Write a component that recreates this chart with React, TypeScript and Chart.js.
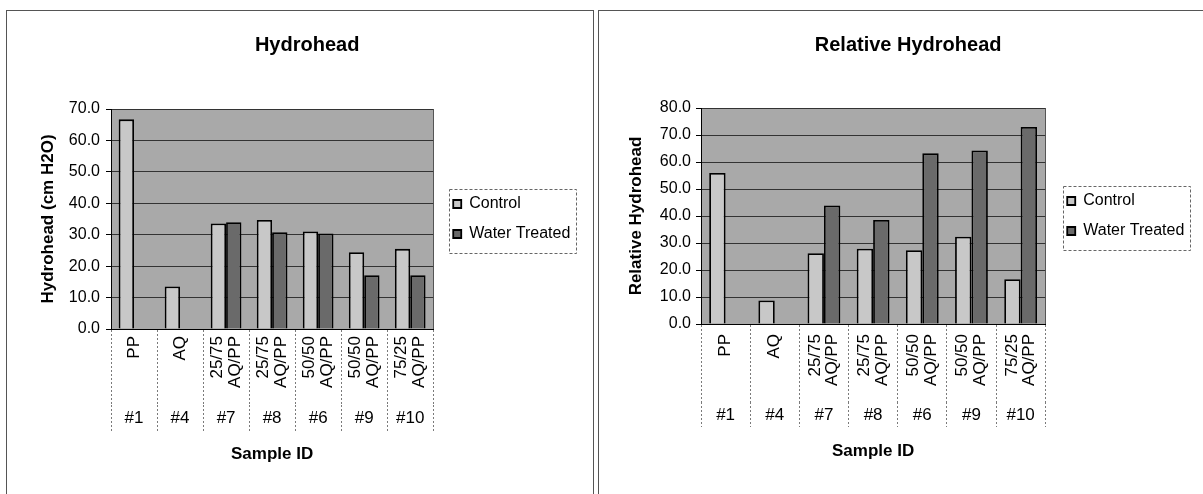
import React, { useEffect, useRef } from 'react';
import { Chart, registerables } from 'chart.js';

Chart.register(...registerables);

// ---------- data ----------
const sampleMaterials: string[] = ['PP', 'AQ', '25/75 AQ/PP', '25/75 AQ/PP', '50/50 AQ/PP', '50/50 AQ/PP', '75/25 AQ/PP'];
const sampleIds: string[] = ['#1', '#4', '#7', '#8', '#6', '#9', '#10'];
const seriesNames: string[] = ['Control', 'Water Treated'];

const hydroheadControl: (number | null)[] = [66.7, 13.5, 33.6, 34.7, 31.0, 24.4, 25.5];
const hydroheadWater: (number | null)[] = [null, null, 34.0, 30.8, 30.4, 17.1, 17.1];

const relativeControl: (number | null)[] = [55.9, 8.7, 26.2, 27.9, 27.3, 32.3, 16.6];
const relativeWater: (number | null)[] = [null, null, 43.9, 38.5, 63.2, 64.3, 73.0];

const hydroheadAxisMax = 70;
const relativeAxisMax = 80;
const axisStep = 10;

// ---------- styles ----------
const FONT = '"Liberation Sans", Arial, Helvetica, sans-serif';
const PLOT_BG = '#a9a9a9';
const CONTROL_FILL = '#c8c8c8';
const WATER_FILL = '#6a6a6a';
const LABEL_LINE = 8.8; // px line step for rotated category labels
const LABEL_SIZE = 17;

// Multi-line category labels: middle slot used for single words so they sit on the centre.
const toLines = (s: string): string[] => {
  const parts = s.split(' ');
  return parts.length === 1 ? ['', parts[0], ''] : [parts[0], '', parts[1]];
};

const plotBackground = {
  id: 'plotBackground',
  beforeDraw(chart: any) {
    const { ctx, chartArea: a } = chart;
    ctx.save();
    ctx.fillStyle = PLOT_BG;
    ctx.fillRect(a.left, a.top, a.right - a.left, a.bottom - a.top);
    ctx.strokeStyle = '#555';
    ctx.lineWidth = 1;
    ctx.strokeRect(Math.round(a.left) + 0.5, Math.round(a.top) + 0.5, Math.round(a.right - a.left), Math.round(a.bottom - a.top));
    ctx.restore();
  },
};

const legendFrame = {
  id: 'legendFrame',
  afterDraw(chart: any) {
    const lg = chart.legend;
    if (!lg || !lg.legendHitBoxes || !lg.legendHitBoxes.length) return;
    const hb = lg.legendHitBoxes;
    const maxW = Math.max(...hb.map((h: any) => h.width));
    const left = Math.round(hb[0].left - 4) + 0.5;
    const top = Math.round(hb[0].top - 7) + 0.5;
    const right = Math.round(hb[0].left + maxW + 6) + 0.5;
    const last = hb[hb.length - 1];
    const bottom = Math.round(last.top + last.height + 11) + 0.5;
    const { ctx } = chart;
    ctx.save();
    ctx.strokeStyle = '#666';
    ctx.lineWidth = 1;
    ctx.setLineDash([3, 2]);
    ctx.strokeRect(left, top, right - left, bottom - top);
    ctx.restore();
  },
};

type Spec = {
  left: number; top: number; width: number; height: number;
  title: string; yTitle: string; control: (number | null)[]; water: (number | null)[]; yMax: number;
  padLeft: number; padRight: number; padBottom: number;
  titlePadTop: number; titlePadBottom: number;
  yWidth: number; yTickPad: number; gap: number;
  xHeight: number; xLabelPad: number;
  x2Height: number; x2Tick: number; x2LabelPad: number;
};

function buildConfig(s: Spec): any {
  return {
    type: 'bar',
    data: {
      labels: sampleMaterials.map(toLines),
      datasets: [
        { label: seriesNames[0], data: s.control, backgroundColor: CONTROL_FILL, borderColor: '#000', borderWidth: 1.8, categoryPercentage: 0.667, barPercentage: 1 },
        { label: seriesNames[1], data: s.water, backgroundColor: WATER_FILL, borderColor: '#000', borderWidth: 1.8, categoryPercentage: 0.667, barPercentage: 1 },
      ],
    },
    options: {
      responsive: false,
      maintainAspectRatio: false,
      animation: false,
      devicePixelRatio: 1,
      events: [],
      layout: { padding: { left: s.padLeft, right: s.padRight, top: 0, bottom: s.padBottom } },
      plugins: {
        title: {
          display: true, text: s.title, color: '#000',
          font: { family: FONT, size: 20, weight: 'bold' },
          padding: { top: s.titlePadTop, bottom: s.titlePadBottom },
        },
        legend: {
          position: 'right', align: 'center', fullSize: false, maxWidth: 300,
          labels: { boxWidth: 8, boxHeight: 8, padding: 14, color: '#000', font: { family: FONT, size: 16 } },
        },
        tooltip: { enabled: false },
      },
      scales: {
        x: {
          type: 'category', position: 'bottom', offset: true,
          grid: { display: true, drawOnChartArea: false, drawTicks: true, tickLength: s.xHeight, offset: true, tickColor: '#7a7a7a', tickWidth: 1, tickBorderDash: [2, 2] },
          border: { display: true, color: '#000', width: 1 },
          ticks: {
            autoSkip: false, minRotation: 90, maxRotation: 90, padding: s.xLabelPad, labelOffset: -LABEL_LINE,
            color: '#000', font: { family: FONT, size: LABEL_SIZE, lineHeight: LABEL_LINE / LABEL_SIZE },
          },
          afterFit: (sc: any) => { sc.height = s.xHeight; },
        },
        x2: {
          type: 'category', position: 'bottom', labels: sampleIds, offset: true,
          grid: { display: true, drawOnChartArea: false, drawTicks: true, tickLength: s.x2Tick, offset: true, tickColor: '#7a7a7a', tickWidth: 1, tickBorderDash: [2, 2] },
          border: { display: false },
          ticks: { autoSkip: false, minRotation: 0, maxRotation: 0, padding: s.x2LabelPad, color: '#000', font: { family: FONT, size: LABEL_SIZE } },
          title: { display: true, text: 'Sample ID', color: '#000', font: { family: FONT, size: 17, weight: 'bold' }, padding: { top: 0, bottom: 4 } },
          afterFit: (sc: any) => { sc.height = s.x2Height; },
        },
        y: {
          type: 'linear', position: 'left', min: 0, max: s.yMax,
          ticks: { stepSize: axisStep, padding: s.yTickPad, color: '#000', font: { family: FONT, size: 16 }, callback: (v: any) => Number(v).toFixed(1) },
          grid: { color: '#333', lineWidth: 1, drawTicks: true, tickLength: 5, tickColor: '#000' },
          border: { display: true, color: '#000', width: 1 },
          title: { display: true, text: s.yTitle, color: '#000', font: { family: FONT, size: 17, weight: 'bold' }, padding: { top: 4, bottom: 4 } },
          afterFit: (sc: any) => { sc.width = s.yWidth; },
        },
        gap: {
          type: 'linear', position: 'right', display: true,
          grid: { display: false, drawTicks: false },
          border: { display: false },
          ticks: { display: false },
          afterFit: (sc: any) => { sc.width = s.gap; },
        },
      },
    },
    plugins: [plotBackground, legendFrame],
  };
}

const leftSpec: Spec = {
  left: 7, top: 11, width: 586, height: 483,
  title: 'Hydrohead', yTitle: 'Hydrohead (cm H2O)', control: hydroheadControl, water: hydroheadWater, yMax: hydroheadAxisMax,
  padLeft: 27, padRight: 12.7, padBottom: 25,
  titlePadTop: 22, titlePadBottom: 52,
  yWidth: 77, yTickPad: 6, gap: 6,
  xHeight: 76, xLabelPad: -69,
  x2Height: 64, x2Tick: 28, x2LabelPad: -25,
};

const rightSpec: Spec = {
  left: 599, top: 11, width: 612, height: 483,
  title: 'Relative Hydrohead', yTitle: 'Relative Hydrohead', control: relativeControl, water: relativeWater, yMax: relativeAxisMax,
  padLeft: 23, padRight: 16.7, padBottom: 28,
  titlePadTop: 22, titlePadBottom: 51,
  yWidth: 79, yTickPad: 5, gap: 8,
  xHeight: 78, xLabelPad: -68,
  x2Height: 64, x2Tick: 25, x2LabelPad: -22,
};

function BarPanel({ spec }: { spec: Spec }) {
  const ref = useRef<HTMLCanvasElement | null>(null);
  useEffect(() => {
    if (!ref.current) return;
    const chart = new Chart(ref.current, buildConfig(spec));
    return () => chart.destroy();
  }, [spec]);
  return (
    <canvas
      ref={ref}
      width={spec.width}
      height={spec.height}
      style={{ position: 'absolute', left: spec.left, top: spec.top, width: spec.width, height: spec.height, display: 'block' }}
    />
  );
}

export default function App() {
  return (
    <div style={{ position: 'fixed', left: 0, top: 0, width: 1203, height: 494, overflow: 'hidden', background: '#fff' }}>
      <div style={{ position: 'absolute', left: 6, top: 10, width: 588, height: 520, boxSizing: 'border-box', border: '1px solid #555' }} />
      <div style={{ position: 'absolute', left: 598, top: 10, width: 620, height: 520, boxSizing: 'border-box', border: '1px solid #555' }} />
      <BarPanel spec={leftSpec} />
      <BarPanel spec={rightSpec} />
    </div>
  );
}
